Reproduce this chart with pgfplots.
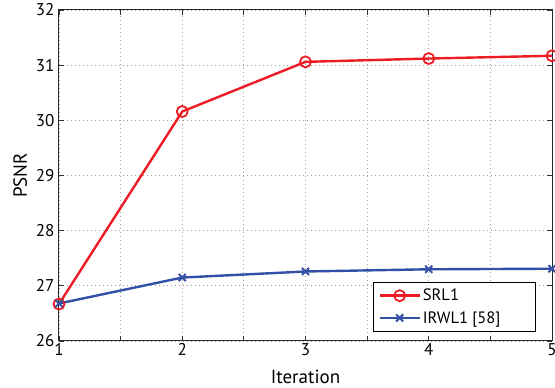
\documentclass[border=0pt]{standalone}
\usepackage{pgfplots}
\pgfplotsset{compat=1.18}
\usepackage{fontspec}
\setmainfont{PT Sans}
\usetikzlibrary{calc}
\definecolor{srl}{RGB}{237,28,36}
\definecolor{irw}{RGB}{50,80,165}
\newcommand{\labf}{\fontsize{19}{21}\selectfont}
\newcommand{\legf}{\fontsize{16.5}{19}\selectfont}
\newcommand{\tickf}{\fontsize{17}{19}\selectfont}
\begin{document}
\begin{tikzpicture}[x=1pt,y=1pt]
\begin{axis}[name=ax,
  scale only axis, width=493pt, height=331pt,
  xmin=1, xmax=5, ymin=26, ymax=32,
  xtick={1,1.5,...,5}, xticklabels={1,,2,,3,,4,,5},
  ytick={26,27,...,32},
  grid=major, grid style={dash pattern=on 0.8pt off 3.2pt, gray!75, line width=0.8pt},
  axis line style={line width=1pt, black!85},
  tick style={line width=0.8pt, black!80},
  tick align=inside, major tick length=5pt,
  xticklabel style={font=\tickf, yshift=1pt},
  yticklabel style={font=\tickf, xshift=-1pt},
  /pgf/number format/assume math mode=true,
  xlabel={Iteration}, ylabel={PSNR},
  xlabel style={font=\labf, yshift=-8pt},
  ylabel style={font=\labf, yshift=2pt},
  legend style={at={(0.9675,0.027)}, anchor=south east, draw=black, line width=1pt,
    font=\legf, row sep=5pt, inner xsep=5pt, inner ysep=5pt},
  legend cell align=left,
  legend image code/.code={\draw[#1] (0pt,0pt) -- (20pt,0pt) plot coordinates {(20pt,0pt)} -- (40pt,0pt);},
]
\addplot[color=srl, line width=2.4pt, mark=o, mark size=5.5pt, mark options={line width=1.8pt}]
  coordinates {(1,26.67) (2,30.16) (3,31.06) (4,31.12) (5,31.17)};
\addlegendentry{SRL1}
\addplot[color=irw, line width=2.4pt, mark=x, mark size=5pt, mark options={line width=2pt}]
  coordinates {(1,26.68) (2,27.15) (3,27.26) (4,27.30) (5,27.31)};
\addlegendentry{IRWL1 [58]\kern28pt\null}
\end{axis}
\pgfresetboundingbox
\path[use as bounding box] ($(ax.south west)+(-59pt,-47pt)$) rectangle ($(ax.north east)+(3pt,10pt)$);
\end{tikzpicture}
\end{document}
